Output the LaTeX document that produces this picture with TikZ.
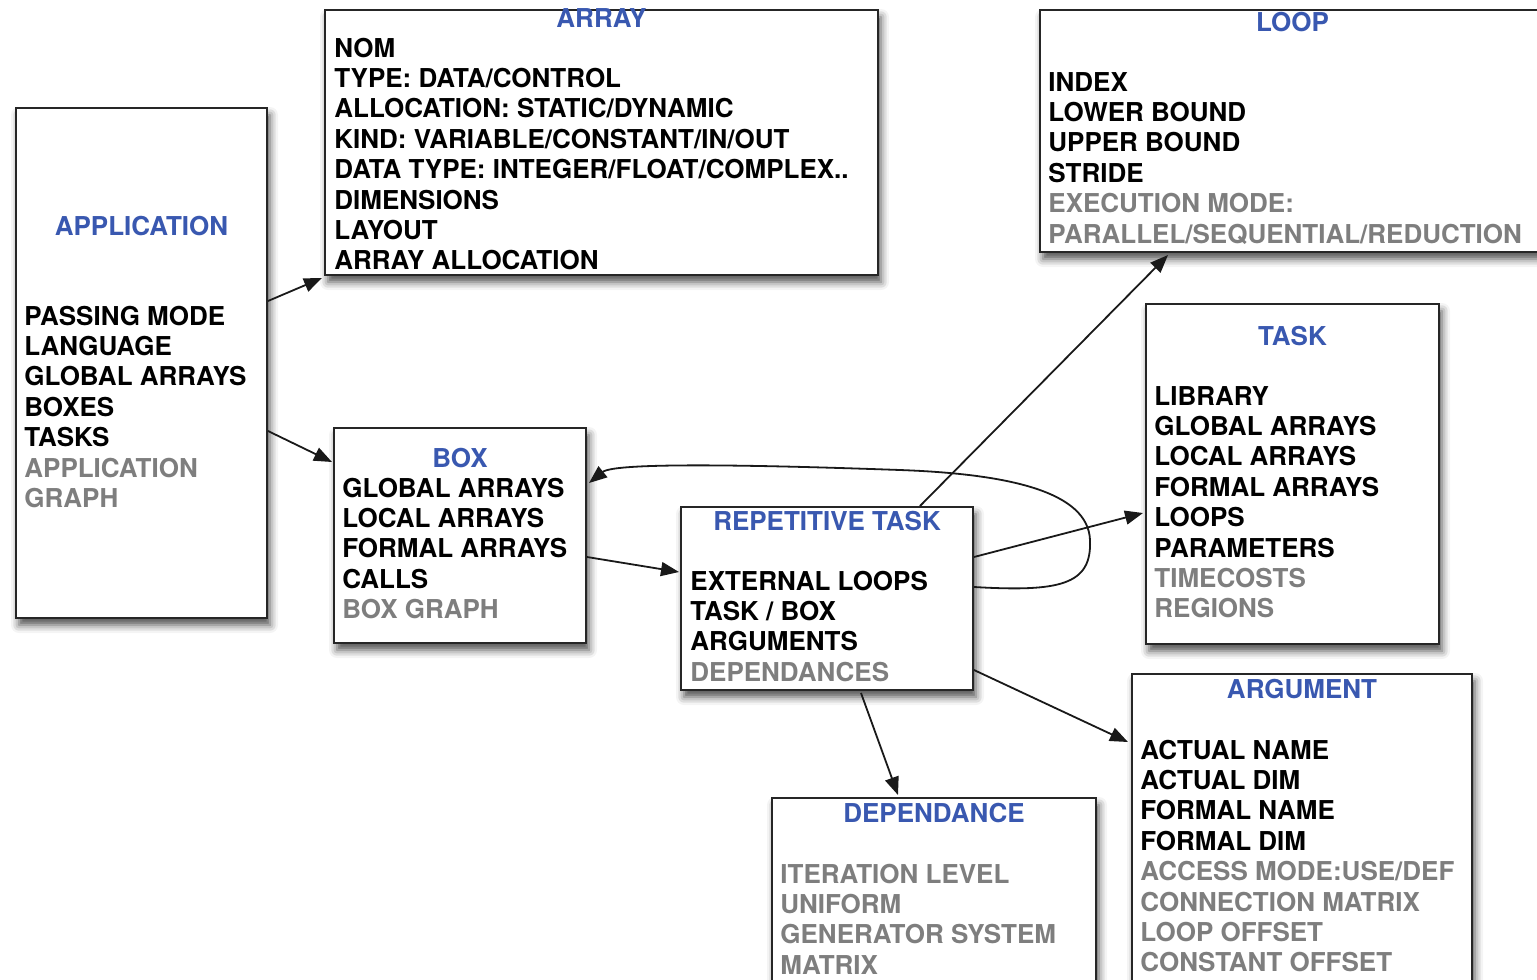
\documentclass[tikz,border=0pt]{standalone}
\usepackage{fontspec}
\setmainfont{TeX Gyre Heros}
\usetikzlibrary{calc,fit,arrows.meta,shadows.blur}
\definecolor{titleblue}{RGB}{57,88,176}
\definecolor{itemgray}{RGB}{126,126,126}
\newcommand{\gi}[1]{\textcolor{itemgray}{#1}}
\begin{document}
\begin{tikzpicture}[x=0.5pt,y=-0.5pt,
  box/.style={draw=black!85, line width=1pt, fill=white, inner sep=0pt,
    blur shadow={shadow xshift=1.5pt, shadow yshift=-3.5pt, shadow blur radius=4pt, shadow opacity=70}},
  txtfont/.style={font=\fontsize{13}{15.2}\selectfont\bfseries},
  title/.style={txtfont, text=titleblue, anchor=base, inner sep=0pt},
  items/.style={txtfont, anchor=base west, inner sep=0pt},
  link/.style={-{Stealth[inset=0pt,length=9pt,width=7pt]}, line width=0.9pt, black!90}
]
\useasboundingbox (0,0) rectangle (1537,980);
\clip (0,0) rectangle (1537,980);

% class boxes
\node[box, fit={(16,108)(267,618)}] (app) {};
\node[box, fit={(325,10)(878,275)}] (array) {};
\node[box, fit={(1040,10)(1545,252)}] (loop) {};
\node[box, fit={(1146,304)(1439,644)}] (task) {};
\node[box, fit={(334,428)(586,643)}] (box) {};
\node[box, fit={(681,507)(973,690)}] (rep) {};
\node[box, fit={(772,798)(1096,1010)}] (dep) {};
\node[box, fit={(1132,674)(1472,1010)}] (arg) {};

% titles
\node[title] (app-t)   at ($(app.north)+(0,128)$)   {APPLICATION};
\node[title] (array-t) at ($(array.north)+(0,18)$)  {ARRAY};
\node[title] (loop-t)  at ($(loop.north)+(0,22)$)   {LOOP};
\node[title] (task-t)  at ($(task.north)+(0,42)$)   {TASK};
\node[title] (box-t)   at ($(box.north)+(0,40)$)    {BOX};
\node[title] (rep-t)   at ($(rep.north)+(0,24)$)    {REPETITIVE TASK};
\node[title] (dep-t)   at ($(dep.north)+(0,25)$)    {DEPENDANCE};
\node[title] (arg-t)   at ($(arg.north)+(0,25)$)    {ARGUMENT};

% attribute lists
\node[items] (app-l) at ($(app.north west)+(9,218)$) {\begin{tabular}[t]{@{}l@{}}
PASSING MODE\\ LANGUAGE\\ GLOBAL ARRAYS\\ BOXES\\ TASKS\\ \gi{APPLICATION}\\ \gi{GRAPH}\end{tabular}};
\node[items] (array-l) at ($(array.north west)+(10,48)$) {\begin{tabular}[t]{@{}l@{}}
NOM\\ TYPE: DATA/CONTROL\\ ALLOCATION: STATIC/DYNAMIC\\ KIND: VARIABLE/CONSTANT/IN/OUT\\
DATA TYPE: INTEGER/FLOAT/COMPLEX..\\ DIMENSIONS\\ LAYOUT\\ ARRAY ALLOCATION\end{tabular}};
\node[items] (loop-l) at ($(loop.north west)+(9,82)$) {\begin{tabular}[t]{@{}l@{}}
INDEX\\ LOWER BOUND\\ UPPER BOUND\\ STRIDE\\ \gi{EXECUTION MODE:}\\ \gi{PARALLEL/SEQUENTIAL/REDUCTION}\end{tabular}};
\node[items] (task-l) at ($(task.north west)+(9,102)$) {\begin{tabular}[t]{@{}l@{}}
LIBRARY\\ GLOBAL ARRAYS\\ LOCAL ARRAYS\\ FORMAL ARRAYS\\ LOOPS\\ PARAMETERS\\ \gi{TIMECOSTS}\\ \gi{REGIONS}\end{tabular}};
\node[items] (box-l) at ($(box.north west)+(9,70)$) {\begin{tabular}[t]{@{}l@{}}
GLOBAL ARRAYS\\ LOCAL ARRAYS\\ FORMAL ARRAYS\\ CALLS\\ \gi{BOX GRAPH}\end{tabular}};
\node[items] (rep-l) at ($(rep.north west)+(10,84)$) {\begin{tabular}[t]{@{}l@{}}
EXTERNAL LOOPS\\ TASK / BOX\\ ARGUMENTS\\ \gi{DEPENDANCES}\end{tabular}};
\node[items] (dep-l) at ($(dep.north west)+(9,86)$) {\begin{tabular}[t]{@{}l@{}}
\gi{ITERATION LEVEL}\\ \gi{UNIFORM}\\ \gi{GENERATOR SYSTEM}\\ \gi{MATRIX}\end{tabular}};
\node[items] (arg-l) at ($(arg.north west)+(9,86)$) {\begin{tabular}[t]{@{}l@{}}
ACTUAL NAME\\ ACTUAL DIM\\ FORMAL NAME\\ FORMAL DIM\\ \gi{ACCESS MODE:USE/DEF}\\
\gi{CONNECTION MATRIX}\\ \gi{LOOP OFFSET}\\ \gi{CONSTANT OFFSET}\end{tabular}};

% relations
\draw[link] ($(app.north east)+(0,194)$) -- ($(array.south west)+(-2,2)$);
\draw[link] ($(app.north east)+(0,324)$) -- ($(box.north west)+(-1,35)$);
\draw[link] ($(box.north east)+(0,130)$) -- ($(rep.north west)+(-1,66)$);
\draw[link] ($(rep.north west)+(240,0)$) -- ($(loop.south west)+(129,2)$);
\draw[link] ($(rep.north east)+(0,51)$) -- ($(task.north west)+(-2,210)$);
\draw[link] ($(rep.north east)+(0,81)$) .. controls (1060,592) and (1092,585) .. (1090,540)
  .. controls (1088,492) and (1010,474) .. (900,470)
  .. controls (760,465) and (615,462) .. ($(box.north east)+(2,56)$);
\draw[link] ($(rep.south west)+(181,2)$) -- ($(dep.north west)+(127,-2)$);
\draw[link] ($(rep.north east)+(0,164)$) -- ($(arg.north west)+(-3,69)$);
\end{tikzpicture}
\end{document}
